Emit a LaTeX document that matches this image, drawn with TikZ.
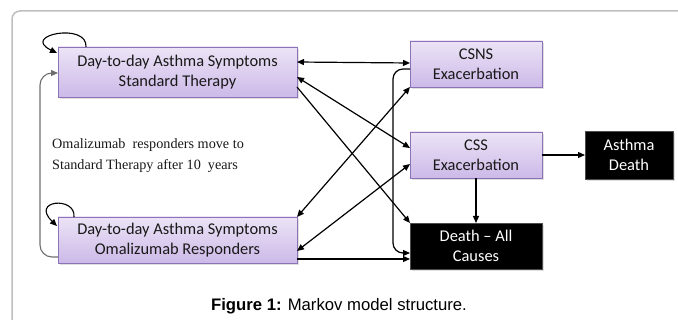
\documentclass[tikz,border=0pt]{standalone}
\usepackage{fontspec}
\setmainfont{Carlito}
\newfontfamily\notefont{Liberation Serif}
\newfontfamily\capfont{Liberation Sans}
\usetikzlibrary{arrows.meta,calc,shadows}
\definecolor{boxtop}{RGB}{236,228,246}
\definecolor{boxbot}{RGB}{204,185,232}
\definecolor{boxline}{RGB}{140,114,182}
\definecolor{framegray}{RGB}{190,190,190}
\definecolor{leftline}{RGB}{110,110,110}
\definecolor{txt}{RGB}{25,25,25}
\tikzset{
  purplebox/.style={draw=boxline, line width=0.9pt, top color=boxtop, bottom color=boxbot,
    inner sep=0pt, outer sep=0pt, align=center, text=txt,
    font=\fontsize{16.4}{19.5}\selectfont,
    drop shadow={shadow xshift=1.5pt, shadow yshift=-2.5pt, opacity=0.25, fill=gray}},
  blackbox/.style={draw=black!70, line width=0.6pt, fill=black, text=white,
    inner sep=0pt, outer sep=0pt, align=center,
    font=\fontsize{16.4}{19.5}\selectfont,
    drop shadow={shadow xshift=1.5pt, shadow yshift=-2.5pt, opacity=0.25, fill=gray}},
  arr/.style={line width=1.2pt, -{Triangle[length=7pt,width=6pt]}},
  darr/.style={line width=1.2pt, {Triangle[length=7pt,width=6pt]}-{Triangle[length=7pt,width=6pt]}},
  notetext/.style={anchor=base west, inner sep=0pt, font=\notefont\fontsize{14.2}{17}\selectfont, text=txt},
}
\begin{document}
\begin{tikzpicture}[x=1pt,y=-1pt]
\useasboundingbox (0,0) rectangle (678,320);
% outer frame
\draw[framegray, line width=1.5pt, rounded corners=8pt] (12,322) -- (12,11) -- (680,11);

% nodes
\node[purplebox, minimum width=239pt, minimum height=50pt] (st) at (177.5,72)
  {Day-to-day Asthma Symptoms\\Standard Therapy};
\node[purplebox, minimum width=239pt, minimum height=46pt] (om) at (177.5,240)
  {Day-to-day Asthma Symptoms\\Omalizumab Responders};
\node[purplebox, minimum width=132pt, minimum height=46pt] (csns) at (476,64)
  {CSNS\\Exacerbation};
\node[purplebox, minimum width=132pt, minimum height=46pt] (css) at (476,155)
  {CSS\\Exacerbation};
\node[blackbox, minimum width=88pt, minimum height=48pt] (ad) at (629,155)
  {Asthma\\Death};
\node[blackbox, minimum width=132pt, minimum height=46pt] (dac) at (476,246)
  {Death -- All\\Causes};

\node[notetext] (note1) at (52,149) {Omalizumab\ \ responders move to};
\node[notetext] (note2) at (52,170) {Standard Therapy after 10\ \ years};

\node[anchor=base, inner sep=0pt, font=\capfont\fontsize{16.7}{20}\selectfont] (cap) at (339,311)
  {\textbf{Figure 1:} Markov model structure.};

% self loops
\draw[arr, line width=1.1pt] ($(st.north west)+(28,0)$) .. controls ($(st.north west)+(30,-25)$) and ($(st.north west)+(-38,-12)$) .. ($(st.north west)+(-1,6)$);
\draw[arr, line width=1.1pt] ($(om.north west)+(16,0)$) .. controls ($(om.north west)+(18,-21)$) and ($(om.north west)+(-28,-17)$) .. ($(om.north west)+(-1,9)$);

% left return connector
\coordinate (lb) at ($(om.south west)+(0,-6)$);
\coordinate (lt) at ($(st.north west)+(0,26)$);
\draw[arr, draw=leftline, line width=1.1pt, rounded corners=12pt] (lb) -- (lb -| 40,0) -- (lt -| 40,0) -- (lt);

% connectors
\draw[darr] ($(st.north east)+(0,15)$) -- ($(csns.north west)+(0,22)$);
\draw[darr] ($(st.north east)+(0,30)$) -- ($(css.north west)+(0,16)$);
\draw[arr] ($(st.north east)+(0,40)$) -- (dac.north west);
\draw[darr] (om.north east) -- (csns.south west);
\draw[darr] ($(om.north east)+(0,34)$) -- ($(css.north west)+(0,32)$);
\draw[arr] ($(om.south east)+(0,-4)$) -- ($(dac.north west)+(0,36)$);
\draw[arr, rounded corners=10pt] ($(csns.north west)+(0,28)$) -- ++(-17,0) |- ($(dac.north west)+(0,30)$);
\draw[arr] (css.east) -- (ad.west);
\draw[arr] (css.south) -- (dac.north);
\end{tikzpicture}
\end{document}
